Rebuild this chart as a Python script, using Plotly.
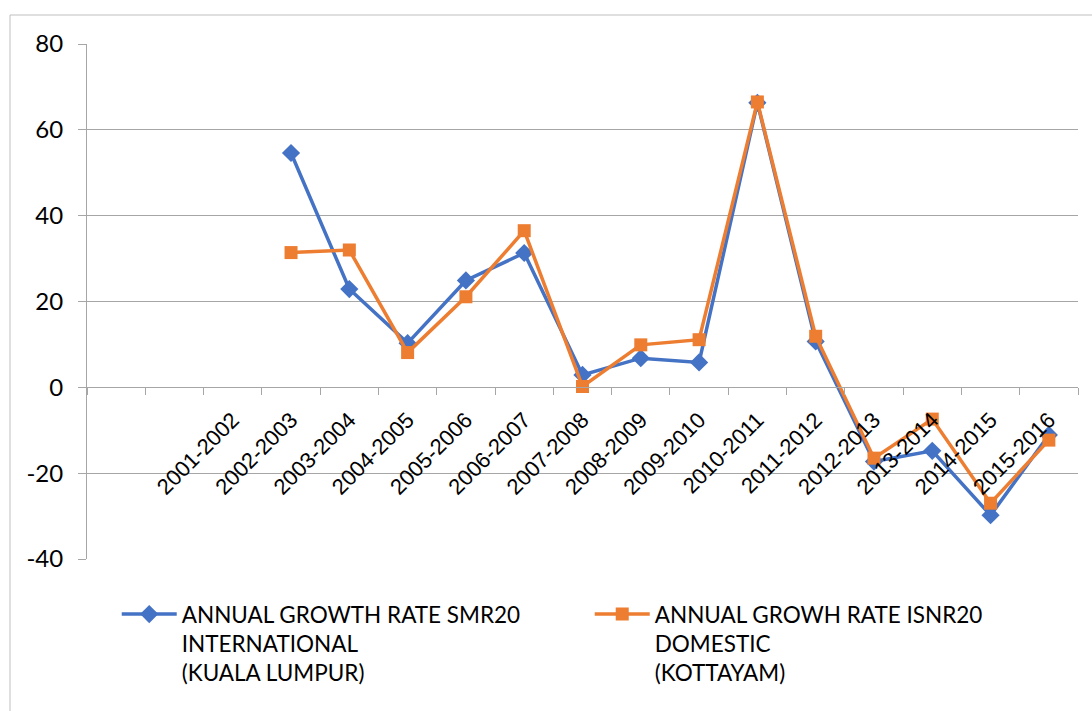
import plotly.graph_objects as go

# ---- data ----
years = ["2001-2002", "2002-2003", "2003-2004", "2004-2005", "2005-2006",
         "2006-2007", "2007-2008", "2008-2009", "2009-2010", "2010-2011",
         "2011-2012", "2012-2013", "2013-2014", "2014-2015", "2015-2016"]
smr20_international = [None, 54.6, 22.9, 10.3, 24.9, 31.3, 2.9, 6.8, 5.8,
                       66.3, 10.7, -17.3, -14.8, -29.8, -11.1]
isnr20_domestic = [None, 31.4, 32.0, 8.1, 21.1, 36.5, 0.2, 9.9, 11.1,
                   66.5, 11.9, -16.5, -7.4, -27.0, -12.3]
y_ticks = [-40, -20, 0, 20, 40, 60, 80]
y_tick_labels = ["-40", "-20", "0", "20", "40", "60", "80"]
name_intl = "ANNUAL GROWTH RATE SMR20<br>INTERNATIONAL<br>(KUALA LUMPUR)"
name_dom = "ANNUAL GROWH RATE ISNR20<br>DOMESTIC<br>(KOTTAYAM)"

x = list(range(len(years)))
GRID = "#A6A6A6"
BLUE = "#4472C4"
ORANGE = "#ED7D31"

fig = go.Figure()
fig.add_trace(go.Scatter(
    x=x, y=smr20_international, name=name_intl, mode="lines+markers",
    line=dict(color=BLUE, width=3.5),
    marker=dict(symbol="diamond", size=14, color=BLUE),
))
fig.add_trace(go.Scatter(
    x=x, y=isnr20_domestic, name=name_dom, mode="lines+markers",
    line=dict(color=ORANGE, width=3.5),
    marker=dict(symbol="square", size=13, color=ORANGE),
))

y_min, y_max = y_ticks[0], y_ticks[-1]

fig.update_layout(
    width=1092, height=711,
    margin=dict(l=87, r=14, t=44, b=152, autoexpand=False),
    paper_bgcolor="white", plot_bgcolor="white",
    showlegend=True,
    legend=dict(
        orientation="h", x=0.03, xanchor="left", y=-0.066, yanchor="top",
        font=dict(family="Lato", size=22.5, color="#000000"),
        entrywidth=403, entrywidthmode="pixels", valign="top",
        itemwidth=55, traceorder="normal", bgcolor="rgba(0,0,0,0)",
    ),
    xaxis=dict(
        type="linear", range=[-2.5, len(years) - 0.5], automargin=False,
        tickmode="array", tickvals=x, ticktext=years, tickangle=-45,
        ticks="", showgrid=False, zeroline=False,
        showline=True, linecolor=GRID, linewidth=1,
        anchor="free", position=(0 - y_min) / (y_max - y_min),
        tickfont=dict(family="Liberation Sans, Arial", size=22, color="#000000"),
        ticklabelstandoff=10,
        minor=dict(tickmode="linear", tick0=0.5, dtick=1, ticks="outside",
                   ticklen=7, tickcolor=GRID, tickwidth=1, showgrid=False),
    ),
    yaxis=dict(
        range=[y_min, y_max], tickmode="array", tickvals=y_ticks,
        ticktext=y_tick_labels, automargin=False,
        showgrid=True, gridcolor=GRID, gridwidth=1, zeroline=False,
        showline=True, linecolor=GRID, linewidth=1,
        ticks="outside", ticklen=8, tickcolor=GRID, tickwidth=1,
        ticklabelstandoff=10,
        tickfont=dict(family="Lato", size=24, color="#000000"),
    ),
    shapes=[dict(type="rect", xref="paper", yref="paper",
                 x0=(10 - 87) / 991, x1=1.05, y0=-0.4, y1=1 + (44 - 15) / 515,
                 line=dict(color="#BFBFBF", width=1), fillcolor="rgba(0,0,0,0)",
                 layer="below")],
)

fig.write_html("out.html")
